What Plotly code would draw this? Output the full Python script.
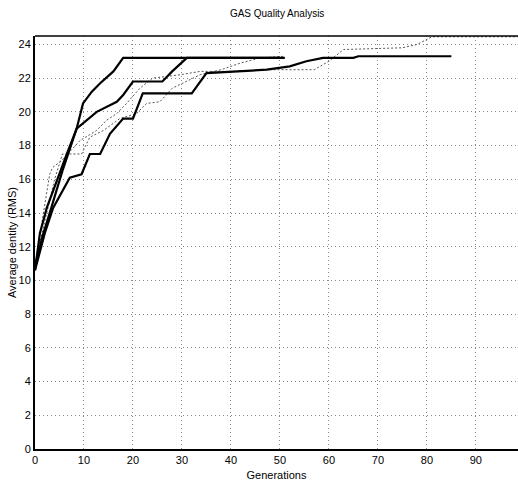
import plotly.graph_objects as go

# Series (generation, average identity)
a_gen = [0, 1, 2.4, 4.5, 6.5, 8.5, 9.8, 11.6, 13.3, 16, 18, 51]
a_val = [10.6, 12.8, 14.3, 16.0, 17.5, 19.0, 20.5, 21.2, 21.7, 22.4, 23.2, 23.2]

b_gen = [0, 1.5, 3, 5.6, 8.5, 12.6, 16.7, 18, 20, 26, 28, 31, 50]
b_val = [10.8, 12.6, 14.0, 16.5, 19.0, 20.0, 20.6, 21.0, 21.8, 21.8, 22.4, 23.2, 23.2]

c_gen = [0, 2, 3.7, 7.1, 9.5, 11.2, 13.3, 15.3, 18, 20, 22, 32, 35, 47.3, 52, 55.4, 58.8, 65, 66, 85]
c_val = [10.6, 12.8, 14.3, 16.1, 16.3, 17.5, 17.5, 18.7, 19.6, 19.6, 21.1, 21.1, 22.3, 22.5, 22.7, 23.0, 23.2, 23.2, 23.3, 23.3]

d_gen = [0, 1.5, 3, 3.6, 5.4, 9.2, 12.6, 14.6, 16.7, 18.7, 21.4, 24, 29.6, 33.7, 40, 47, 57, 60, 62, 63, 75, 78, 80, 81, 100]
d_val = [10.9, 13.5, 16.3, 16.7, 17.1, 18.3, 18.9, 19.5, 19.9, 20.5, 21.4, 22.0, 22.2, 22.4, 22.4, 22.5, 22.5, 23.0, 23.5, 23.7, 23.8, 24.0, 24.3, 24.45, 24.45]

e_gen = [0, 2, 4, 5.6, 9.5, 11.2, 14, 17.3, 20.7, 22.8, 25.5, 28, 31, 33.7, 38, 42, 46, 51]
e_val = [11.0, 13.6, 16.0, 17.5, 17.5, 18.5, 18.9, 19.6, 19.9, 20.5, 20.6, 21.4, 21.8, 22.2, 22.5, 22.9, 23.2, 23.3]

x_ticks = [0, 10, 20, 30, 40, 50, 60, 70, 80, 90]
y_ticks = [0, 2, 4, 6, 8, 10, 12, 14, 16, 18, 20, 22, 24]

fig = go.Figure()
thick = dict(color="black", width=2.2)
thin = dict(color="#555555", width=1, dash="2px,2px")
fig.add_trace(go.Scatter(x=d_gen, y=d_val, mode="lines", line=thin))
fig.add_trace(go.Scatter(x=e_gen, y=e_val, mode="lines", line=thin))
fig.add_trace(go.Scatter(x=a_gen, y=a_val, mode="lines", line=thick))
fig.add_trace(go.Scatter(x=b_gen, y=b_val, mode="lines", line=thick))
fig.add_trace(go.Scatter(x=c_gen, y=c_val, mode="lines", line=thick))

font = "Liberation Sans Narrow, Liberation Sans, Arial, sans-serif"
fig.update_layout(
    width=518, height=495,
    margin=dict(l=35, r=0, t=36, b=46),
    paper_bgcolor="white", plot_bgcolor="white",
    showlegend=False,
    font=dict(family=font, color="black", size=11),
    title=dict(text="GAS Quality Analysis", x=0.535, xanchor="center", y=0.972, yanchor="middle",
               font=dict(size=10, family=font, color="black")),
    xaxis=dict(range=[0, 98.6], tickvals=x_ticks, showgrid=True, gridcolor="#888888",
               griddash="1px,3px", gridwidth=1, zeroline=False, showline=True, linecolor="black",
               linewidth=1.5, ticks="", tickfont=dict(size=11),
               title=dict(text="Generations", font=dict(size=11), standoff=6)),
    yaxis=dict(range=[0, 24.5], tickvals=y_ticks, showgrid=True, gridcolor="#888888",
               griddash="1px,3px", gridwidth=1, zeroline=False, showline=True, linecolor="black",
               linewidth=2, mirror=False, ticks="", tickfont=dict(size=11),
               title=dict(text="Average dentity (RMS)", font=dict(size=11), standoff=0)),
)
# top frame line
fig.add_shape(type="line", xref="paper", yref="paper", x0=0, x1=1, y0=1, y1=1,
              line=dict(color="black", width=1.5))
fig.write_html("out.html")
